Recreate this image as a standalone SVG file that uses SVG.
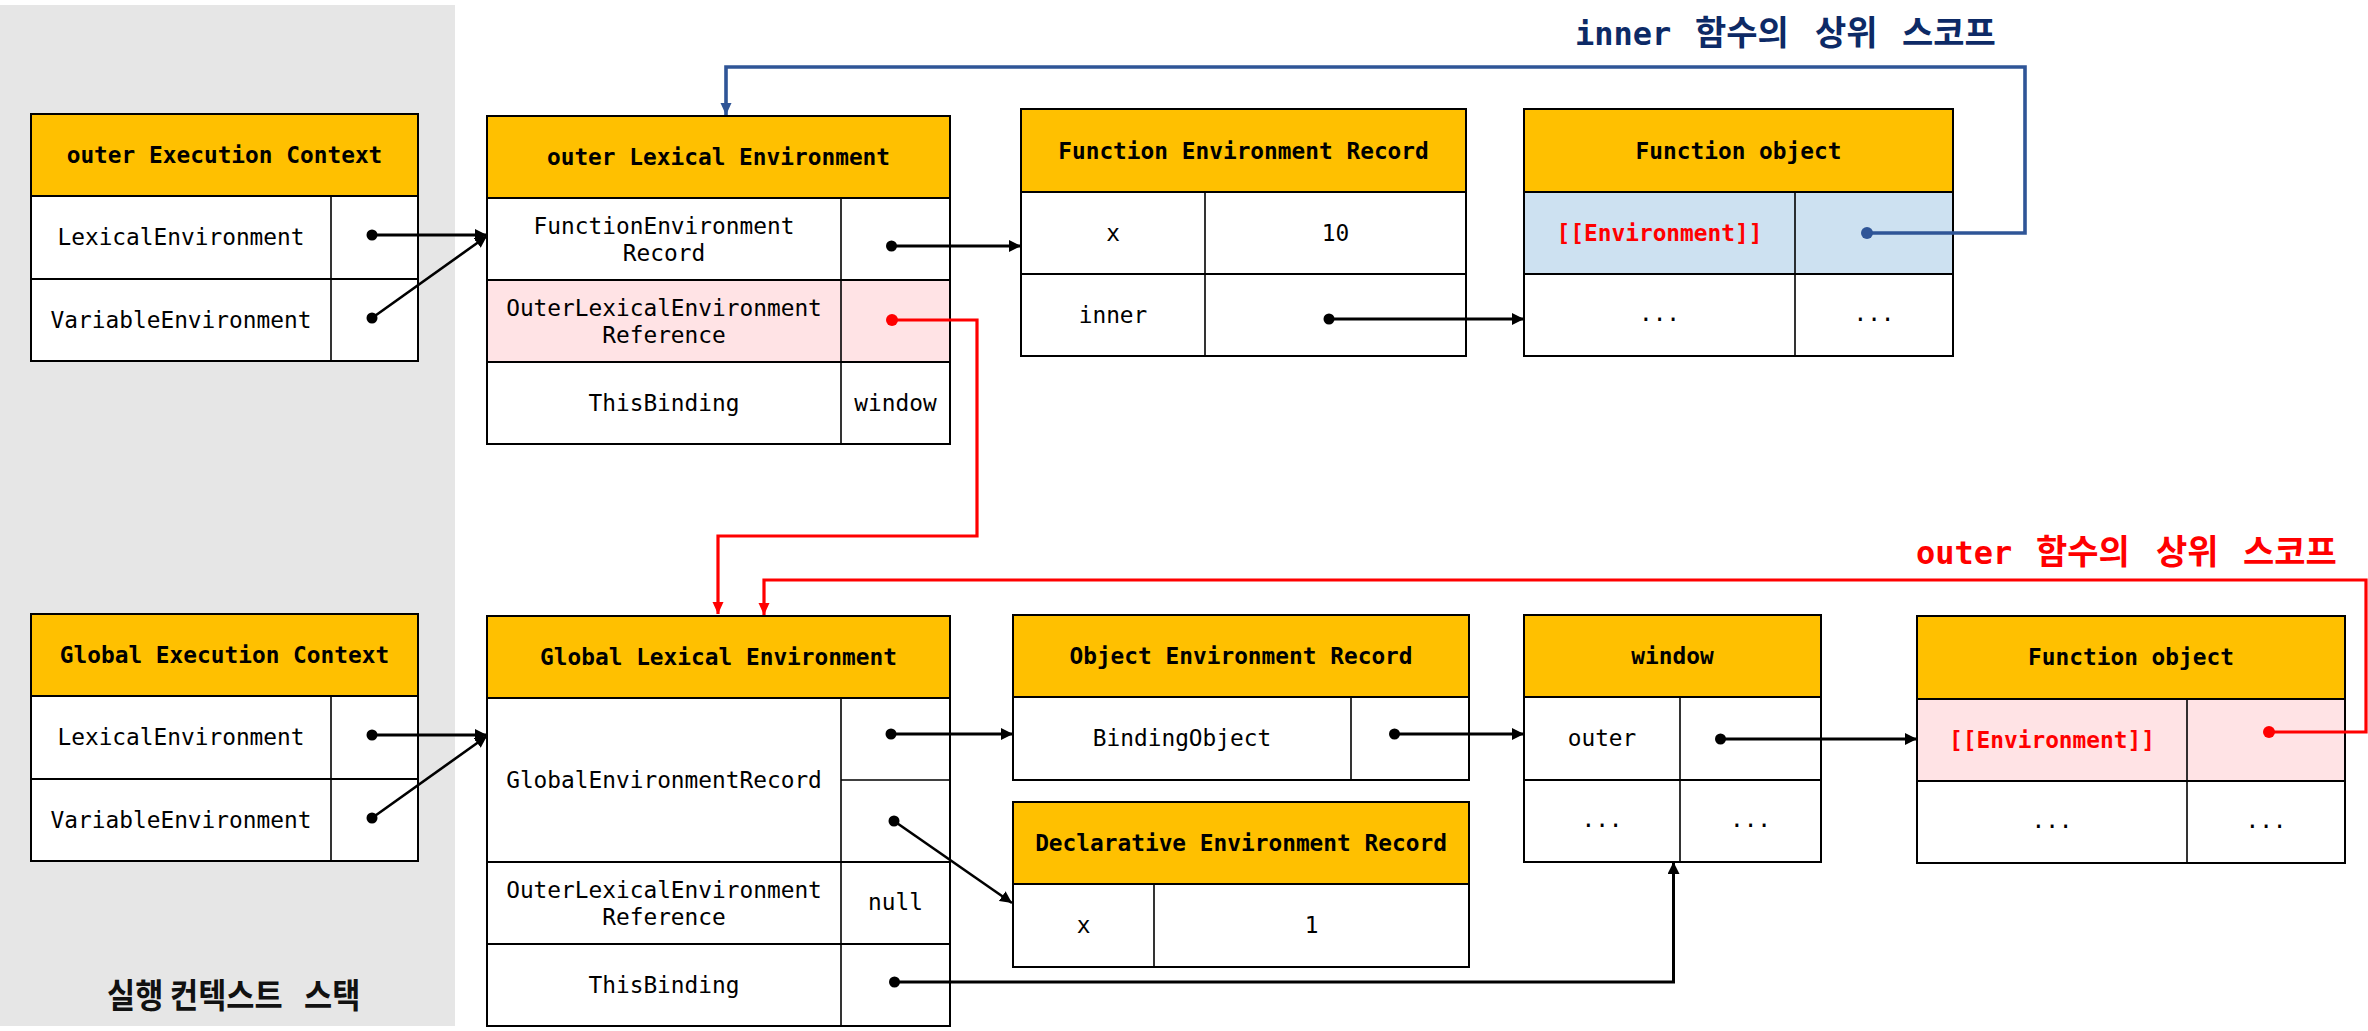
<svg xmlns="http://www.w3.org/2000/svg" width="2368" height="1031" viewBox="0 0 2368 1031">
<style>
.hd{fill:#FFC000}
.wh{fill:#FFFFFF}
.pk{fill:#FFE3E5}
.bl{fill:#CDE1F1}
.bd{fill:none;stroke:#000;stroke-width:2}
.ln{stroke:#000;stroke-width:2}
.cl{stroke:#000;stroke-width:1.6}
.t{font-family:"DejaVu Sans Mono","Liberation Mono",monospace;font-size:22.8px;text-anchor:middle;fill:#000}
.b{font-weight:bold}
.env{fill:#FF0000;font-weight:bold}
.mono{font-family:"DejaVu Sans Mono","Liberation Mono",monospace;font-weight:bold;font-size:32px}
.ko{font-family:"Noto Sans CJK KR",sans-serif;font-weight:bold;font-size:34px}
.ar{fill:none;stroke:#000;stroke-width:3}
.ard{fill:none;stroke:#000;stroke-width:2.6}
.rd{fill:none;stroke:#FF0000;stroke-width:3.2}
.bu{fill:none;stroke:#2F5597;stroke-width:3.6}
</style>
<defs>
<marker id="ab" markerUnits="userSpaceOnUse" markerWidth="12" markerHeight="12" refX="12" refY="6" orient="auto"><path d="M0,0 L12,6 L0,12 z" fill="#000"/></marker>
<marker id="ar" markerUnits="userSpaceOnUse" markerWidth="12" markerHeight="12" refX="12" refY="6" orient="auto"><path d="M0,0.5 L12,6 L0,11.5 z" fill="#FF0000"/></marker>
<marker id="au" markerUnits="userSpaceOnUse" markerWidth="12" markerHeight="12" refX="12" refY="6" orient="auto"><path d="M0,0.5 L12,6 L0,11.5 z" fill="#2F5597"/></marker>
</defs>
<rect x="0" y="5" width="455" height="1021" fill="#E6E6E6"/>

<g id="node-outer-ec">
<rect class="hd" x="31" y="114" width="387" height="82"/>
<rect class="wh" x="31" y="196" width="387" height="165"/>
<line class="ln" x1="31" y1="196" x2="418" y2="196"/>
<line class="ln" x1="31" y1="279" x2="418" y2="279"/>
<line class="cl" x1="331" y1="196" x2="331" y2="361"/>
<rect class="bd" x="31" y="114" width="387" height="247"/>
<text class="t b" x="224.5" y="163">outer Execution Context</text>
<text class="t" x="181" y="245">LexicalEnvironment</text>
<text class="t" x="181" y="328">VariableEnvironment</text>
</g>

<g id="node-outer-le">
<rect class="hd" x="487" y="116" width="463" height="82"/>
<rect class="wh" x="487" y="198" width="463" height="82"/>
<rect class="pk" x="487" y="280" width="463" height="82"/>
<rect class="wh" x="487" y="362" width="463" height="82"/>
<line class="ln" x1="487" y1="198" x2="950" y2="198"/>
<line class="ln" x1="487" y1="280" x2="950" y2="280"/>
<line class="ln" x1="487" y1="362" x2="950" y2="362"/>
<line class="cl" x1="841" y1="198" x2="841" y2="444"/>
<rect class="bd" x="487" y="116" width="463" height="328"/>
<text class="t b" x="718.5" y="165">outer Lexical Environment</text>
<text class="t" x="664" y="234">FunctionEnvironment</text>
<text class="t" x="664" y="261">Record</text>
<text class="t" x="664" y="316">OuterLexicalEnvironment</text>
<text class="t" x="664" y="343">Reference</text>
<text class="t" x="664" y="411">ThisBinding</text>
<text class="t" x="895.5" y="411">window</text>
</g>

<g id="node-function-env-record">
<rect class="hd" x="1021" y="109" width="445" height="83"/>
<rect class="wh" x="1021" y="192" width="445" height="164"/>
<line class="ln" x1="1021" y1="192" x2="1466" y2="192"/>
<line class="ln" x1="1021" y1="274" x2="1466" y2="274"/>
<line class="cl" x1="1205" y1="192" x2="1205" y2="356"/>
<rect class="bd" x="1021" y="109" width="445" height="247"/>
<text class="t b" x="1243.5" y="158.5">Function Environment Record</text>
<text class="t" x="1113" y="241">x</text>
<text class="t" x="1335.5" y="241">10</text>
<text class="t" x="1113" y="323">inner</text>
</g>

<g id="node-function-object-inner">
<rect class="hd" x="1524" y="109" width="429" height="83"/>
<rect class="bl" x="1524" y="192" width="429" height="82"/>
<rect class="wh" x="1524" y="274" width="429" height="82"/>
<line class="ln" x1="1524" y1="192" x2="1953" y2="192"/>
<line class="ln" x1="1524" y1="274" x2="1953" y2="274"/>
<line class="cl" x1="1795" y1="192" x2="1795" y2="356"/>
<rect class="bd" x="1524" y="109" width="429" height="247"/>
<text class="t b" x="1738.5" y="158.5">Function object</text>
<text class="t env" x="1659.5" y="241">[[Environment]]</text>
<text class="t" x="1659.5" y="321">...</text>
<text class="t" x="1874" y="321">...</text>
</g>

<g id="node-global-ec">
<rect class="hd" x="31" y="614" width="387" height="82"/>
<rect class="wh" x="31" y="696" width="387" height="165"/>
<line class="ln" x1="31" y1="696" x2="418" y2="696"/>
<line class="ln" x1="31" y1="779" x2="418" y2="779"/>
<line class="cl" x1="331" y1="696" x2="331" y2="861"/>
<rect class="bd" x="31" y="614" width="387" height="247"/>
<text class="t b" x="224.5" y="663">Global Execution Context</text>
<text class="t" x="181" y="745">LexicalEnvironment</text>
<text class="t" x="181" y="828">VariableEnvironment</text>
</g>

<g id="node-global-le">
<rect class="hd" x="487" y="616" width="463" height="82"/>
<rect class="wh" x="487" y="698" width="463" height="328"/>
<line class="ln" x1="487" y1="698" x2="950" y2="698"/>
<line class="cl" x1="841" y1="780" x2="950" y2="780"/>
<line class="ln" x1="487" y1="862" x2="950" y2="862"/>
<line class="ln" x1="487" y1="944" x2="950" y2="944"/>
<line class="cl" x1="841" y1="698" x2="841" y2="1026"/>
<rect class="bd" x="487" y="616" width="463" height="410"/>
<text class="t b" x="718.5" y="665">Global Lexical Environment</text>
<text class="t" x="664" y="788">GlobalEnvironmentRecord</text>
<text class="t" x="664" y="898">OuterLexicalEnvironment</text>
<text class="t" x="664" y="925">Reference</text>
<text class="t" x="895.5" y="910">null</text>
<text class="t" x="664" y="993">ThisBinding</text>
</g>

<g id="node-object-env-record">
<rect class="hd" x="1013" y="615" width="456" height="82"/>
<rect class="wh" x="1013" y="697" width="456" height="83"/>
<line class="ln" x1="1013" y1="697" x2="1469" y2="697"/>
<line class="cl" x1="1351" y1="697" x2="1351" y2="780"/>
<rect class="bd" x="1013" y="615" width="456" height="165"/>
<text class="t b" x="1241" y="664">Object Environment Record</text>
<text class="t" x="1182" y="746">BindingObject</text>
</g>

<g id="node-declarative-env-record">
<rect class="hd" x="1013" y="802" width="456" height="82"/>
<rect class="wh" x="1013" y="884" width="456" height="83"/>
<line class="ln" x1="1013" y1="884" x2="1469" y2="884"/>
<line class="cl" x1="1154" y1="884" x2="1154" y2="967"/>
<rect class="bd" x="1013" y="802" width="456" height="165"/>
<text class="t b" x="1241" y="851">Declarative Environment Record</text>
<text class="t" x="1083.5" y="933">x</text>
<text class="t" x="1311.5" y="933">1</text>
</g>

<g id="node-window">
<rect class="hd" x="1524" y="615" width="297" height="82"/>
<rect class="wh" x="1524" y="697" width="297" height="165"/>
<line class="ln" x1="1524" y1="697" x2="1821" y2="697"/>
<line class="ln" x1="1524" y1="780" x2="1821" y2="780"/>
<line class="cl" x1="1680" y1="697" x2="1680" y2="862"/>
<rect class="bd" x="1524" y="615" width="297" height="247"/>
<text class="t b" x="1672.5" y="664">window</text>
<text class="t" x="1602" y="746">outer</text>
<text class="t" x="1602" y="827">...</text>
<text class="t" x="1750.5" y="827">...</text>
</g>

<g id="node-function-object-outer">
<rect class="hd" x="1917" y="616" width="428" height="83"/>
<rect class="pk" x="1917" y="699" width="428" height="82"/>
<rect class="wh" x="1917" y="781" width="428" height="82"/>
<line class="ln" x1="1917" y1="699" x2="2345" y2="699"/>
<line class="ln" x1="1917" y1="781" x2="2345" y2="781"/>
<line class="cl" x1="2187" y1="699" x2="2187" y2="863"/>
<rect class="bd" x="1917" y="616" width="428" height="247"/>
<text class="t b" x="2131" y="665">Function object</text>
<text class="t env" x="2052" y="748">[[Environment]]</text>
<text class="t" x="2052" y="828">...</text>
<text class="t" x="2266" y="828">...</text>
</g>

<g id="labels">
<text y="45" fill="#0D2A66"><tspan class="mono" x="1575">inner </tspan><tspan class="ko" x="1695">함수의 </tspan><tspan class="ko" x="1815">상위 </tspan><tspan class="ko" x="1902">스코프</tspan></text>
<text y="564" fill="#FF0000"><tspan class="mono" x="1916">outer </tspan><tspan class="ko" x="2036">함수의 </tspan><tspan class="ko" x="2156">상위 </tspan><tspan class="ko" x="2243">스코프</tspan></text>
<text y="1008" fill="#111" transform="scale(0.9,1)"><tspan class="ko" x="118.9" font-size="31">실행 </tspan><tspan class="ko" x="188.9" font-size="31">컨텍스트 </tspan><tspan class="ko" x="337.8" font-size="31">스택</tspan></text>
</g>

<g id="connectors">
<path class="ar" d="M372,235 H487" marker-end="url(#ab)"/>
<path class="ard" d="M372,318 L487,236" marker-end="url(#ab)"/>
<path class="ar" d="M891.5,246 H1021" marker-end="url(#ab)"/>
<path class="ar" d="M1329,319 H1524" marker-end="url(#ab)"/>
<path class="bu" d="M1867,233 H2025 V67 H726 V115" marker-end="url(#au)"/>
<path class="rd" d="M892,320 H977 V536 H718 V614" marker-end="url(#ar)"/>
<path class="ar" d="M372,735 H487" marker-end="url(#ab)"/>
<path class="ard" d="M372,818 L487,736" marker-end="url(#ab)"/>
<path class="ar" d="M891,734 H1013" marker-end="url(#ab)"/>
<path class="ard" d="M894,821 L1012,903" marker-end="url(#ab)"/>
<path class="ar" d="M1394.5,734 H1524" marker-end="url(#ab)"/>
<path class="ar" d="M1720.5,739 H1917" marker-end="url(#ab)"/>
<path class="ar" d="M894.5,982 H1673.5 V862" marker-end="url(#ab)"/>
<path class="rd" d="M2269,732 H2366 V580 H764 V615" marker-end="url(#ar)"/>
<circle cx="372" cy="235" r="5.5" fill="#000"/>
<circle cx="372" cy="318" r="5.5" fill="#000"/>
<circle cx="891.5" cy="246" r="5.5" fill="#000"/>
<circle cx="1329" cy="319" r="5.5" fill="#000"/>
<circle cx="1867" cy="233" r="6" fill="#2F5597"/>
<circle cx="892" cy="320" r="6" fill="#FF0000"/>
<circle cx="372" cy="735" r="5.5" fill="#000"/>
<circle cx="372" cy="818" r="5.5" fill="#000"/>
<circle cx="891" cy="734" r="5.5" fill="#000"/>
<circle cx="894" cy="821" r="5.5" fill="#000"/>
<circle cx="1394.5" cy="734" r="5.5" fill="#000"/>
<circle cx="1720.5" cy="739" r="5.5" fill="#000"/>
<circle cx="894.5" cy="982" r="5.5" fill="#000"/>
<circle cx="2269" cy="732" r="6" fill="#FF0000"/>
</g>
</svg>
